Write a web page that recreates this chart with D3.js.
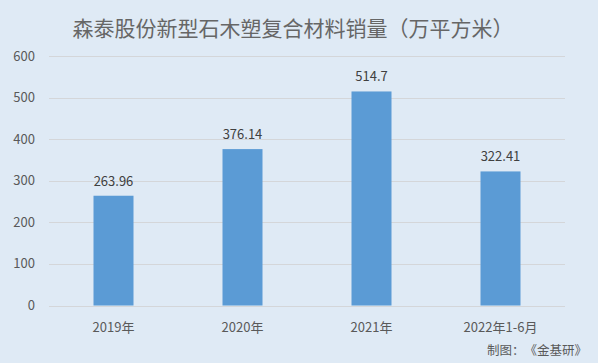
<!DOCTYPE html>
<html>
<head>
<meta charset="utf-8">
<script src="https://cdn.jsdelivr.net/npm/d3@7"></script>
<style>
  body { margin: 0; background: #dfeaf5; }
  svg { display: block; font-family: "Microsoft YaHei", "Noto Sans CJK SC", sans-serif; text-spacing-trim: space-all; }
  .grid line { stroke: #d4d6d9; stroke-width: 1; }
  .tick-label { fill: #595959; font-size: 13px; }
  .value-label { fill: #404040; font-size: 13px; text-anchor: middle; }
</style>
</head>
<body>
<svg width="598" height="363"></svg>
<script>
const categories = ["2019年", "2020年", "2021年", "2022年1-6月"];
const values = [263.96, 376.14, 514.7, 322.41];
const yTicks = [0, 100, 200, 300, 400, 500, 600];

const svg = d3.select("svg");

svg.append("rect")
    .attr("width", 598)
    .attr("height", 363)
    .attr("fill", "#dfeaf5");

const x = d3.scaleBand()
    .domain(categories)
    .range([49, 565])
    .paddingInner(0.69)
    .paddingOuter(0.345);

const y = d3.scaleLinear()
    .domain([0, 600])
    .range([305.5, 56]);

// gridlines
svg.append("g")
    .attr("class", "grid")
    .selectAll("line")
    .data(yTicks)
    .enter().append("line")
    .attr("x1", 49)
    .attr("x2", 565)
    .attr("y1", (d) => Math.round(y(d)) + 0.5)
    .attr("y2", (d) => Math.round(y(d)) + 0.5);

// y labels
svg.selectAll(".y-label")
    .data(yTicks)
    .enter().append("text")
    .attr("class", "tick-label")
    .attr("x", 35)
    .attr("y", (d) => y(d) + 4.5)
    .attr("text-anchor", "end")
    .text((d) => d);

// bars
svg.selectAll(".bar")
    .data(values)
    .enter().append("rect")
    .attr("class", "bar")
    .attr("x", (d, i) => x(categories[i]))
    .attr("width", x.bandwidth())
    .attr("y", (d) => y(d))
    .attr("height", (d) => y(0) - y(d))
    .attr("fill", "#5b9bd5");

// redraw baseline over bars
svg.append("line")
    .attr("x1", 49).attr("x2", 565)
    .attr("y1", Math.round(y(0)) + 0.5).attr("y2", Math.round(y(0)) + 0.5)
    .attr("stroke", "#d4d6d9");

// value labels
svg.selectAll(".value-label")
    .data(values)
    .enter().append("text")
    .attr("class", "value-label")
    .attr("x", (d, i) => x(categories[i]) + x.bandwidth() / 2)
    .attr("y", (d) => y(d) - 10)
    .text((d) => d);

// x labels
svg.selectAll(".x-label")
    .data(categories)
    .enter().append("text")
    .attr("class", "tick-label")
    .attr("x", (d) => x(d) + x.bandwidth() / 2)
    .attr("y", 332)
    .attr("text-anchor", "middle")
    .text((d) => d);

// title
svg.append("text")
    .attr("x", 293)
    .attr("y", 36)
    .attr("text-anchor", "middle")
    .attr("fill", "#666666")
    .attr("font-size", "21px")
    .text("森泰股份新型石木塑复合材料销量（万平方米）");

// source
svg.append("text")
    .attr("x", 587)
    .attr("y", 355)
    .attr("text-anchor", "end")
    .attr("fill", "#595959")
    .attr("font-size", "12.5px")
    .text("制图：《金基研》");
</script>
</body>
</html>
